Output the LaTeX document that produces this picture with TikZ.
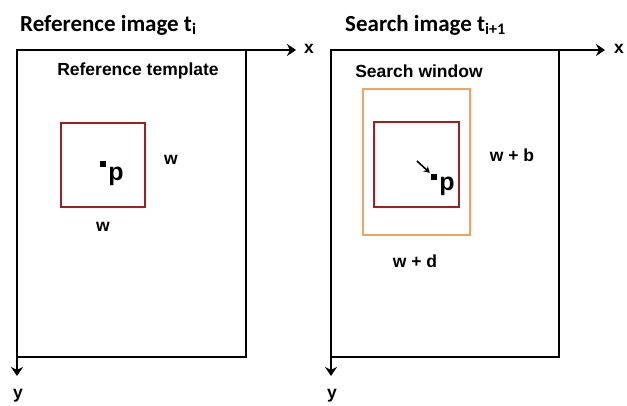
\documentclass[tikz,border=0pt]{standalone}
\usepackage{fontspec}
\setmainfont{Liberation Sans}
\newfontfamily\titlefont{Carlito}
\usetikzlibrary{arrows.meta}
\definecolor{boxred}{HTML}{9E1F24}
\definecolor{boxorange}{HTML}{F2A35E}
\begin{document}
\begin{tikzpicture}[x=1pt,y=-1pt,
  frame/.style={draw=black,line width=2pt,inner sep=0pt,outer sep=0pt,anchor=north west},
  redbox/.style={draw=boxred,line width=1.7pt,inner sep=0pt,outer sep=0pt,anchor=north west},
  orangebox/.style={draw=boxorange,line width=1.7pt,inner sep=0pt,outer sep=0pt,anchor=north west},
  axis/.style={line width=2pt,-{Stealth[length=9pt,width=12pt,inset=3pt]}},
  ttl/.style={font=\titlefont\bfseries\fontsize{23}{27}\selectfont,inner sep=0pt,anchor=west},
  lbl/.style={font=\bfseries\fontsize{17.5}{20}\selectfont,inner sep=0pt},
  plbl/.style={font=\bfseries\fontsize{25}{28}\selectfont,inner sep=0pt},
  pdot/.style={fill=black,minimum size=6pt,inner sep=0pt}]
\useasboundingbox (0,0) rectangle (627,406);
% left panel
\node[ttl] (t1) at (20,25) {Reference image t\textsubscript{i}};
\node[frame,minimum width=229pt,minimum height=307pt] (lbox) at (17,50) {};
\coordinate (lx) at (296,50);
\coordinate (ly) at (17,376);
\draw[axis] (lbox.north west) -- (lx);
\draw[axis] (lbox.north west) -- (ly);
\node[lbl] (lxl) at (309,49) {x};
\node[lbl] (lyl) at (18,396) {y};
\node[lbl] (rt) at (138,71) {Reference template};
\node[redbox,minimum width=84pt,minimum height=84pt] (lred) at (61,123) {};
\node[pdot] (ldot) at (103,164) {};
\node[plbl] (lp) at (116,176) {p};
\node[lbl] (lw1) at (171,160) {w};
\node[lbl] (lw2) at (103,227) {w};
% right panel
\node[ttl] (t2) at (345,25) {Search image t\textsubscript{i+1}};
\node[frame,minimum width=228pt,minimum height=307pt] (rbox) at (331,50) {};
\coordinate (rx) at (605,50);
\coordinate (ry) at (331,376);
\draw[axis] (rbox.north west) -- (rx);
\draw[axis] (rbox.north west) -- (ry);
\node[lbl] (rxl) at (619,49) {x};
\node[lbl] (ryl) at (332,396) {y};
\node[lbl] (sw) at (419,71) {Search window};
\node[orangebox,minimum width=107pt,minimum height=146pt] (rorange) at (363,89) {};
\node[redbox,minimum width=85pt,minimum height=85pt] (rred) at (374,122) {};
\node[pdot] (rdot) at (434,177) {};
\node[plbl] (rp) at (447,186) {p};
\coordinate (arrstart) at (417,161);
\draw[line width=1.6pt,-{Stealth[length=6pt,width=7pt,inset=2pt]}] (arrstart) -- ([shift={(-1pt,1pt)}]rdot.north west);
\node[lbl] (wb) at (512,155) {w + b};
\node[lbl] (wd) at (415,261) {w + d};
\end{tikzpicture}
\end{document}
